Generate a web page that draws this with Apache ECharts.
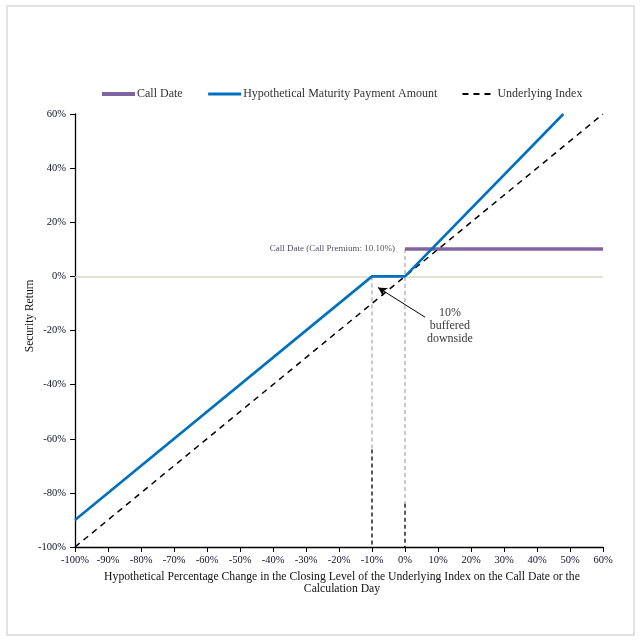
<!DOCTYPE html>
<html>
<head>
<meta charset="utf-8">
<script src="https://cdn.jsdelivr.net/npm/echarts@6/dist/echarts.min.js"></script>
<style>
html,body{margin:0;padding:0;background:#fff;}
#c{width:642px;height:642px;}
</style>
</head>
<body>
<div id="c"></div>
<script>
// ---- data ----
const callDateX = [0, 60];
const callDateY = [10.1, 10.1];
const paymentX = [-100, -10, 0, 48];
const paymentY = [-90, 0, 0, 60];
const underlyingX = [-100, 60];
const underlyingY = [-100, 60];
const bufferGrayLeftX = [-10, -10];
const bufferGrayLeftY = [0, -64];
const bufferBlackLeftX = [-10, -10];
const bufferBlackLeftY = [-64, -100];
const bufferGrayRightX = [0, 0];
const bufferGrayRightY = [10.1, -84];
const bufferBlackRightX = [0, 0];
const bufferBlackRightY = [-84, -100];
const arrowFrom = [6.1, -15.1];
const arrowTo = [-8.2, -4.1];
const noteAt = [13.6, -18.1];
const noteText = '10%\nbuffered\ndownside';
const callLabelAt = [0, 10.1];
const callLabel = 'Call Date (Call Premium: 10.10%)';
const legendNames = ['Call Date', 'Hypothetical Maturity Payment Amount', 'Underlying Index'];
const xTitle = 'Hypothetical Percentage Change in the Closing Level of the Underlying Index on the Call Date or the\nCalculation Day';
const yTitle = 'Security Return';

const zip = (xs, ys) => xs.map((x, i) => [x, ys[i]]);
const FONT = '"Liberation Serif", "DejaVu Serif", serif';

const chart = echarts.init(document.getElementById('c'));
chart.setOption({
  animation: false,
  textStyle: { fontFamily: FONT },
  graphic: [{
    type: 'rect',
    shape: { x: 7, y: 6, width: 627, height: 629 },
    style: { fill: 'none', stroke: '#D9D9D9', lineWidth: 1.5 },
    silent: true, z: -10
  }, {
    type: 'text',
    x: 30, y: 316, rotation: Math.PI / 2,
    style: { text: yTitle, fontFamily: FONT, fontSize: 11.5, fill: '#111',
      align: 'center', verticalAlign: 'middle' },
    silent: true
  }],
  legend: {
    data: [
      { name: legendNames[0], lineStyle: { width: 4 } },
      { name: legendNames[1], lineStyle: { width: 3 } },
      { name: legendNames[2], lineStyle: { width: 2 } }
    ],
    left: 100, top: 88, padding: 0,
    itemWidth: 33, itemHeight: 6, itemGap: 24,
    itemStyle: { opacity: 0 },
    textStyle: { fontFamily: FONT, fontSize: 12, color: '#333', padding: [0, 0, 0, -3] }
  },
  grid: { left: 75, right: 39, top: 114, bottom: 95, containLabel: false },
  xAxis: {
    type: 'value', min: -100, max: 60, interval: 10,
    axisLine: { onZero: false, lineStyle: { color: '#000', width: 1.3 } },
    axisTick: { show: true, length: 5, lineStyle: { color: '#000' } },
    axisLabel: { formatter: '{value}%', fontFamily: FONT, fontSize: 10.5, color: '#10102a', margin: 8 },
    splitLine: { show: false },
    name: xTitle, nameLocation: 'middle', nameGap: 24,
    nameTextStyle: { fontFamily: FONT, fontSize: 11.7, color: '#111', lineHeight: 12, verticalAlign: 'top', padding: [0, 0, 0, 6] }
  },
  yAxis: {
    type: 'value', min: -100, max: 60, interval: 20,
    axisLine: { onZero: false, lineStyle: { color: '#000', width: 1.3 } },
    axisTick: { show: true, length: 5, lineStyle: { color: '#000' } },
    axisLabel: { formatter: '{value}%', fontFamily: FONT, fontSize: 10.5, color: '#10102a', margin: 9 },
    splitLine: { show: false }
  },
  series: [
    {
      name: 'zero', type: 'line', data: [], silent: true, z: 1,
      markLine: {
        silent: true, symbol: ['none', 'none'], label: { show: false },
        lineStyle: { color: '#D8D8C6', width: 1.5, type: 'solid' },
        data: [{ yAxis: 0 }]
      }
    },
    {
      name: 'bufGL', type: 'line', data: zip(bufferGrayLeftX, bufferGrayLeftY), symbol: 'none', z: 2,
      lineStyle: { color: '#A6A6A6', width: 1.2, type: [4, 3] }
    },
    {
      name: 'bufBL', type: 'line', data: zip(bufferBlackLeftX, bufferBlackLeftY), symbol: 'none', z: 2,
      lineStyle: { color: '#000', width: 1.3, type: [4, 3] }
    },
    {
      name: 'bufGR', type: 'line', data: zip(bufferGrayRightX, bufferGrayRightY), symbol: 'none', z: 2,
      lineStyle: { color: '#A6A6A6', width: 1.2, type: [4, 3] }
    },
    {
      name: 'bufBR', type: 'line', data: zip(bufferBlackRightX, bufferBlackRightY), symbol: 'none', z: 2,
      lineStyle: { color: '#000', width: 1.3, type: [4, 3] }
    },
    {
      name: legendNames[0], type: 'line', symbol: 'none', z: 3,
      color: '#8064A2',
      lineStyle: { color: '#8064A2', width: 3.5 },
      data: zip(callDateX, callDateY)
    },
    {
      name: legendNames[2], type: 'line', symbol: 'none', z: 4,
      color: '#000',
      lineStyle: { color: '#000', width: 1.5, type: [6, 5] },
      data: zip(underlyingX, underlyingY)
    },
    {
      name: legendNames[1], type: 'line', symbol: 'none', z: 5,
      color: '#0070C0',
      lineStyle: { color: '#0070C0', width: 2.6 },
      data: zip(paymentX, paymentY)
    },
    {
      name: 'callLabel', type: 'scatter', symbolSize: 0, z: 6, silent: true,
      data: [callLabelAt],
      label: { show: true, position: 'left', distance: 10, formatter: callLabel,
        fontFamily: FONT, fontSize: 9, color: '#1a1a3a' }
    },
    {
      name: 'note', type: 'scatter', symbolSize: 0, z: 6, silent: true,
      data: [noteAt],
      label: { show: true, position: 'inside', formatter: noteText,
        fontFamily: FONT, fontSize: 12, lineHeight: 13, color: '#000', align: 'center' },
      markLine: {
        silent: true, symbol: ['none', 'arrow'], symbolSize: [7, 9], label: { show: false },
        lineStyle: { color: '#000', width: 1, type: 'solid' },
        data: [[{ coord: arrowFrom }, { coord: arrowTo }]]
      }
    }
  ]
});
</script>
</body>
</html>
